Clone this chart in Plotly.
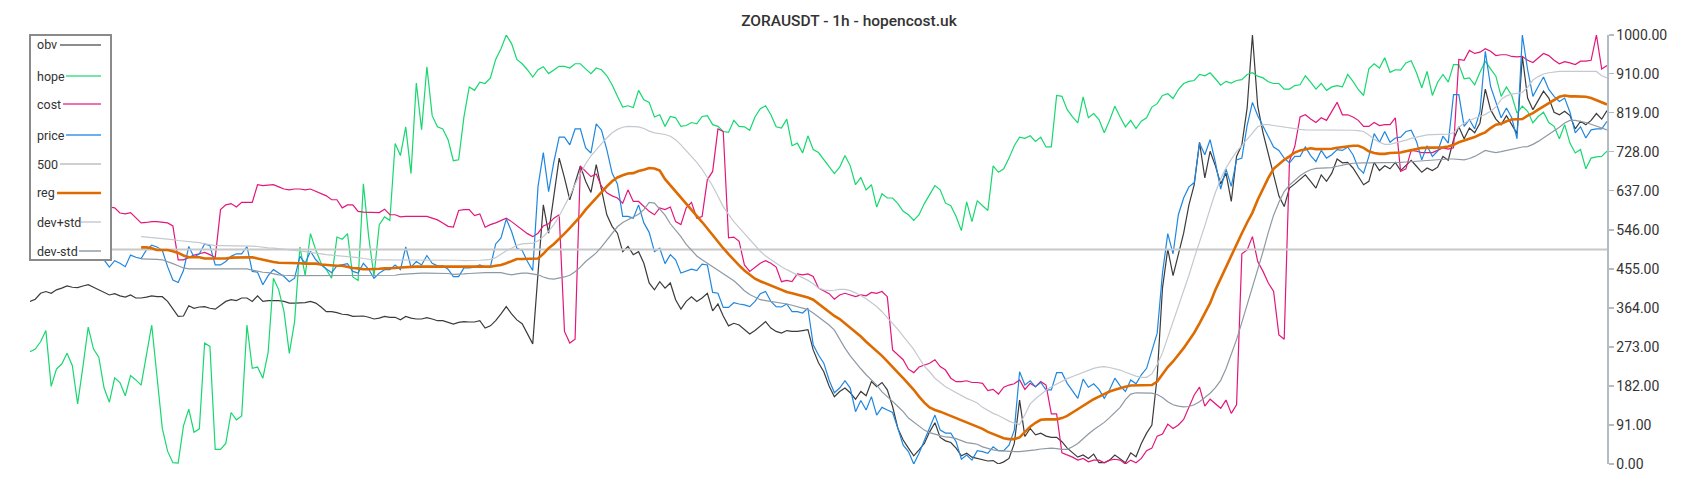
import plotly.graph_objects as go

# ---------------- data (values on a 0-1000 normalised scale) ----------------
hope = [
    262, 268, 285, 311, 181, 221, 233, 258, 229, 140,
    227, 319, 268, 249, 177, 144, 201, 190, 159, 206,
    196, 184, 254, 324, 204, 83, 30, 3, 2, 89,
    128, 74, 82, 282, 274, 34, 34, 48, 120, 103,
    112, 324, 223, 226, 200, 260, 433, 406, 355, 258,
    332, 506, 439, 537, 499, 468, 453, 433, 529, 524,
    537, 436, 428, 653, 530, 437, 558, 576, 568, 747,
    719, 786, 677, 888, 779, 926, 812, 786, 781, 756,
    707, 709, 809, 879, 871, 890, 887, 900, 943, 968,
    1000, 980, 943, 933, 919, 902, 919, 926, 910, 919,
    927, 927, 923, 933, 933, 921, 910, 923, 919, 905,
    884, 857, 832, 835, 831, 871, 849, 843, 809, 814,
    787, 810, 807, 787, 789, 796, 793, 810, 812, 791,
    787, 775, 773, 801, 787, 786, 778, 809, 828, 835,
    814, 786, 783, 804, 742, 748, 725, 765, 733, 726,
    709, 692, 677, 692, 719, 695, 651, 668, 639, 651,
    599, 630, 620, 620, 607, 589, 581, 568, 581, 607,
    629, 649, 639, 608, 602, 577, 544, 611, 565, 614,
    602, 591, 695, 680, 688, 713, 742, 762, 759, 765,
    752, 762, 739, 739, 859, 857, 826, 809, 795, 856,
    807, 817, 803, 772, 801, 834, 809, 786, 801, 782,
    799, 807, 832, 840, 859, 863, 852, 873, 887, 892,
    894, 908, 905, 912, 898, 883, 892, 888, 894, 896,
    908, 912, 904, 900, 891, 887, 887, 874, 874, 882,
    884, 905, 890, 874, 887, 871, 879, 882, 879, 908,
    892, 873, 859, 921, 933, 923, 947, 913, 919, 918,
    935, 940, 912, 877, 915, 859, 890, 908, 890, 931,
    931, 898, 900, 884, 913, 939, 921, 904, 857, 879,
    859, 818, 834, 822, 795, 810, 820, 796, 787, 758,
    791, 748, 725, 733, 688, 713, 716, 717, 729,
]

price = [
    495, 500, 505, 498, 492, 488, 495, 500, 505, 498,
    492, 488, 482, 480, 476, 459, 474, 468, 460, 487,
    482, 479, 499, 510, 506, 498, 460, 429, 423, 451,
    507, 482, 490, 513, 509, 464, 464, 472, 484, 490,
    490, 507, 449, 447, 418, 439, 453, 445, 437, 425,
    433, 484, 468, 496, 476, 464, 454, 446, 462, 464,
    467, 449, 445, 468, 454, 433, 445, 453, 453, 464,
    453, 506, 459, 472, 464, 486, 468, 462, 462, 454,
    437, 437, 457, 457, 459, 464, 459, 460, 513, 527,
    571, 542, 503, 498, 472, 451, 647, 726, 635, 705,
    762, 762, 744, 781, 781, 737, 725, 793, 778, 733,
    678, 653, 577, 577, 573, 604, 562, 540, 495, 503,
    467, 488, 476, 445, 449, 454, 451, 466, 464, 400,
    398, 365, 365, 376, 373, 371, 367, 379, 397, 402,
    379, 367, 366, 373, 355, 355, 352, 363, 278, 254,
    235, 196, 166, 177, 194, 177, 122, 148, 126, 157,
    114, 132, 126, 120, 83, 44, 29, 0, 25, 56,
    87, 114, 79, 72, 72, 52, 11, 21, 9, 31,
    29, 25, 40, 31, 31, 44, 79, 215, 184, 194,
    180, 190, 173, 173, 213, 213, 188, 169, 153, 198,
    179, 187, 174, 153, 173, 200, 182, 169, 196, 187,
    208, 223, 266, 305, 445, 537, 490, 581, 620, 646,
    656, 748, 721, 756, 703, 641, 688, 647, 709, 713,
    789, 843, 812, 787, 765, 739, 731, 713, 702, 717,
    717, 739, 719, 705, 731, 713, 721, 733, 731, 739,
    721, 690, 678, 717, 770, 750, 775, 750, 760, 762,
    775, 778, 752, 709, 742, 717, 729, 764, 748, 861,
    861, 787, 803, 781, 822, 962, 880, 843, 807, 830,
    807, 758, 1000, 919, 857, 880, 902, 873, 857, 845,
    853, 820, 772, 786, 760, 779, 781, 781, 799,
]

obv = [
    379, 384, 398, 402, 398, 406, 410, 415, 412, 411,
    415, 418, 412, 406, 400, 394, 397, 392, 389, 394,
    387, 387, 389, 392, 390, 390, 379, 361, 344, 345,
    369, 363, 366, 367, 363, 361, 371, 379, 383, 381,
    387, 387, 379, 392, 379, 381, 381, 381, 379, 375,
    375, 376, 376, 379, 375, 366, 355, 355, 353, 349,
    348, 344, 344, 345, 342, 338, 340, 344, 342, 342,
    336, 344, 340, 338, 338, 341, 338, 334, 334, 330,
    326, 330, 332, 331, 331, 334, 317, 322, 334, 350,
    367, 350, 336, 327, 305, 280, 445, 604, 538, 624,
    713, 667, 616, 655, 695, 659, 633, 698, 643, 581,
    554, 538, 495, 507, 488, 495, 468, 422, 406, 425,
    410, 422, 383, 361, 379, 390, 379, 387, 398, 357,
    373, 345, 322, 328, 324, 313, 303, 311, 322, 332,
    317, 309, 305, 311, 309, 309, 311, 313, 266, 236,
    215, 182, 157, 169, 177, 166, 151, 169, 159, 192,
    180, 190, 173, 134, 83, 56, 37, 19, 33, 48,
    75, 96, 62, 54, 50, 37, 19, 25, 16, 13,
    9, 7, 8, 0, 5, 13, 48, 149, 64, 83,
    68, 72, 65, 62, 62, 52, 37, 26, 16, 21,
    13, 23, 3, 3, 9, 21, 13, 3, 26, 17,
    48, 72, 91, 204, 410, 501, 439, 490, 538, 604,
    651, 750, 667, 729, 695, 653, 678, 612, 717, 744,
    830, 1000, 834, 772, 721, 670, 625, 600, 643, 653,
    663, 674, 659, 643, 674, 659, 678, 711, 702, 703,
    690, 670, 651, 659, 703, 684, 695, 688, 703, 684,
    695, 708, 694, 680, 690, 684, 692, 717, 708, 756,
    786, 758, 783, 772, 795, 874, 826, 804, 791, 812,
    791, 770, 950, 853, 826, 849, 869, 853, 820, 814,
    822, 812, 781, 799, 791, 801, 817, 804, 824,
]

cost = [
    610, 615, 612, 608, 605, 610, 606, 600, 598, 603,
    600, 597, 602, 600, 599, 599, 597, 585, 583, 586,
    573, 562, 563, 565, 565, 563, 562, 555, 476, 476,
    481, 487, 490, 493, 488, 481, 593, 604, 607, 599,
    610, 610, 610, 651, 649, 650, 651, 646, 641, 639,
    641, 641, 639, 641, 635, 630, 625, 616, 616, 597,
    604, 604, 589, 587, 587, 586, 586, 594, 581, 581,
    576, 577, 577, 577, 577, 577, 573, 569, 562, 554,
    552, 591, 593, 593, 579, 583, 552, 558, 562, 568,
    573, 565, 555, 546, 537, 530, 538, 555, 560, 573,
    581, 309, 282, 291, 694, 682, 670, 676, 647, 632,
    625, 620, 608, 639, 612, 612, 600, 589, 581, 597,
    593, 599, 565, 558, 597, 610, 573, 577, 663, 682,
    781, 775, 527, 529, 519, 464, 449, 459, 468, 474,
    468, 459, 425, 428, 425, 443, 441, 443, 437, 410,
    404, 397, 384, 394, 398, 394, 390, 394, 392, 400,
    398, 402, 390, 266, 254, 243, 221, 213, 226, 231,
    235, 243, 227, 219, 200, 192, 192, 194, 190, 190,
    188, 171, 174, 163, 179, 184, 187, 196, 174, 188,
    180, 192, 184, 117, 117, 26, 21, 16, 9, 13,
    5, 9, 9, 3, 9, 11, 9, 0, 9, 3,
    13, 31, 37, 65, 70, 93, 83, 91, 104, 134,
    161, 179, 135, 151, 140, 130, 149, 118, 138, 490,
    499, 530, 472, 449, 422, 402, 301, 291, 706, 740,
    809, 814, 804, 796, 807, 801, 822, 843, 814, 814,
    809, 801, 787, 787, 796, 789, 791, 791, 807, 682,
    688, 731, 729, 726, 726, 726, 731, 737, 734, 737,
    943, 941, 964, 957, 960, 968, 962, 952, 954, 954,
    950, 949, 950, 941, 936, 947, 957, 952, 941, 933,
    938, 935, 931, 939, 939, 941, 1000, 921, 929,
]

reg = [
    None, None, None, None, None, None, None, None, None, None,
    None, None, None, None, None, None, None, None, None, None,
    None, 505, 505, 503, 499, 499, 499, 496, 492, 486,
    482, 482, 482, 479, 479, 479, 479, 479, 481, 481,
    481, 481, 482, 479, 476, 474, 471, 469, 469, 469,
    469, 468, 467, 467, 467, 465, 464, 462, 462, 462,
    459, 457, 456, 454, 454, 454, 455, 456, 456, 457,
    458, 459, 460, 460, 460, 460, 460, 460, 460, 460,
    460, 459, 460, 460, 460, 460, 460, 460, 462, 464,
    468, 473, 478, 478, 478, 478, 479, 490, 503, 513,
    524, 537, 550, 563, 577, 593, 607, 620, 633, 647,
    659, 668, 673, 677, 678, 683, 686, 690, 689, 684,
    664, 650, 636, 622, 607, 594, 580, 564, 549, 533,
    517, 503, 489, 475, 463, 451, 441, 432, 426, 421,
    416, 411, 406, 401, 398, 395, 392, 388, 383, 373,
    363, 353, 345, 338, 328, 318, 309, 297, 285, 274,
    264, 252, 239, 227, 213, 200, 187, 173, 157, 143,
    132, 126, 122, 117, 112, 107, 101, 96, 92, 87,
    82, 75, 70, 65, 60, 58, 58, 62, 75, 87,
    96, 103, 104, 104, 104, 107, 112, 120, 128, 135,
    143, 151, 157, 163, 169, 173, 177, 180, 183, 183,
    183, 183, 184, 192, 208, 226, 239, 254, 270, 288,
    306, 328, 350, 375, 406, 433, 457, 484, 511, 538,
    563, 586, 616, 641, 667, 688, 699, 709, 717, 726,
    731, 734, 736, 734, 734, 734, 735, 737, 739, 740,
    742, 742, 737, 729, 725, 723, 723, 725, 726, 726,
    729, 731, 734, 737, 737, 737, 737, 738, 740, 744,
    750, 754, 758, 762, 768, 773, 783, 791, 793, 799,
    803, 804, 804, 812, 818, 826, 834, 842, 849, 856,
    859, 857, 857, 856, 856, 853, 848, 842, 838,
]

dev_plus_std = [
    None, None, None, None, None, None, None, None, None, None,
    None, None, None, None, None, None, None, None, None, None,
    None, 530, 529, 528, 526, 525, 524, 523, 521, 520,
    518, 517, 516, 513, 511, 509, 509, 509, 509, 509,
    509, 509, 508, 507, 505, 504, 503, 502, 501, 500,
    499, 497, 495, 493, 491, 489, 488, 487, 486, 485,
    484, 483, 481, 479, 477, 476, 476, 476, 476, 476,
    476, 476, 476, 476, 476, 476, 476, 476, 476, 475,
    475, 475, 474, 474, 475, 475, 476, 477, 481, 490,
    497, 503, 510, 513, 514, 515, 520, 530, 543, 558,
    578, 600, 625, 652, 678, 700, 718, 733, 747, 760,
    772, 780, 785, 787, 787, 786, 782, 776, 772, 770,
    768, 764, 756, 744, 730, 718, 703, 687, 668, 648,
    624, 600, 582, 565, 551, 537, 524, 510, 496, 485,
    476, 468, 460, 453, 447, 441, 435, 428, 420, 410,
    406, 404, 405, 407, 407, 404, 399, 393, 385, 376,
    367, 355, 342, 329, 314, 298, 283, 267, 247, 228,
    215, 200, 190, 180, 173, 166, 160, 153, 148, 142,
    132, 125, 118, 113, 106, 100, 95, 92, 115, 140,
    152, 163, 172, 180, 187, 194, 199, 204, 209, 214,
    219, 223, 226, 227, 225, 222, 219, 214, 209, 205,
    202, 202, 210, 232, 259, 295, 329, 365, 399, 440,
    480, 515, 555, 595, 633, 665, 690, 710, 728, 742,
    756, 772, 786, 791, 791, 789, 787, 785, 784, 782,
    780, 779, 779, 779, 778, 778, 778, 778, 778, 778,
    778, 777, 775, 767, 757, 750, 745, 745, 748, 751,
    755, 759, 762, 765, 767, 768, 768, 768, 769, 772,
    785, 795, 801, 806, 810, 815, 822, 832, 850, 858,
    862, 864, 866, 878, 895, 903, 909, 912, 914, 915,
    915, 915, 915, 915, 915, 915, 915, 905, 900,
]

dev_minus_std = [
    None, None, None, None, None, None, None, None, None, None,
    None, None, None, None, None, None, None, None, None, None,
    None, 478, 478, 477, 477, 476, 472, 467, 462, 457,
    455, 455, 455, 455, 455, 455, 455, 455, 456, 456,
    456, 455, 452, 449, 447, 446, 443, 441, 440, 439,
    439, 439, 439, 439, 439, 439, 439, 439, 439, 439,
    439, 439, 439, 439, 439, 439, 439, 439, 439, 440,
    442, 443, 444, 444, 445, 445, 445, 445, 445, 444,
    442, 442, 443, 444, 445, 445, 446, 446, 446, 446,
    443, 441, 443, 445, 445, 443, 441, 436, 432, 431,
    433, 436, 440, 448, 459, 472, 482, 492, 506, 522,
    538, 553, 563, 570, 576, 582, 593, 610, 608, 595,
    580, 560, 545, 530, 512, 498, 485, 476, 468, 460,
    452, 445, 436, 427, 416, 404, 395, 389, 383, 381,
    379, 378, 376, 373, 370, 367, 364, 360, 352, 343,
    335, 324, 312, 290, 270, 252, 236, 222, 208, 196,
    184, 168, 158, 146, 134, 122, 107, 98, 88, 79,
    73, 69, 66, 63, 62, 59, 54, 50, 48, 46,
    40, 36, 33, 31, 30, 29, 29, 29, 30, 31,
    33, 35, 36, 37, 36, 34, 34, 40, 48, 60,
    70, 80, 88, 97, 108, 120, 132, 150, 163, 166,
    166, 166, 165, 162, 155, 145, 138, 135, 133, 134,
    138, 145, 155, 165, 178, 195, 222, 255, 290, 330,
    370, 415, 455, 495, 540, 580, 610, 635, 650, 662,
    672, 680, 686, 689, 690, 690, 691, 694, 697, 699,
    701, 702, 702, 702, 702, 702, 702, 703, 703, 703,
    704, 705, 705, 706, 707, 708, 709, 710, 711, 711,
    710, 709, 712, 717, 724, 731, 728, 726, 728, 731,
    733, 736, 739, 740, 745, 752, 760, 768, 776, 785,
    795, 801, 801, 799, 796, 792, 788, 784, 779,
]

level_500 = 500

y_tick_values = [0, 91, 182, 273, 364, 455, 546, 637, 728, 819, 910, 1000]
y_tick_labels = ["0.00", "91.00", "182.00", "273.00", "364.00", "455.00",
                 "546.00", "637.00", "728.00", "819.00", "910.00", "1000.00"]

title_text = "ZORAUSDT - 1h - hopencost.uk"

# ---------------- figure ----------------
N = len(hope)
x = list(range(N))

FONT = "Roboto, 'Noto Sans', sans-serif"

series = [
    ("obv", obv, "#3b3b3b", 1.2, "#8c8c8c", 60),
    ("hope", hope, "#16d86f", 1.2, "#74e6a7", 66),
    ("cost", cost, "#e3167b", 1.2, "#ee71ac", 63),
    ("price", price, "#1f87e0", 1.2, "#6aaff0", 66),
    ("500", [level_500] * N, "#c8c8c8", 2.0, "#cfcfcf", 60),
    ("reg", reg, "#de6b00", 2.6, "#de6b00", 57),
    ("dev+std", dev_plus_std, "#c3c9cf", 1.2, "#d5d9dd", 81),
    ("dev-std", dev_minus_std, "#8e99a3", 1.2, "#aeb6bd", 79),
]

fig = go.Figure()
for name, ys, color, width, _, _ in series:
    fig.add_trace(go.Scatter(
        x=x, y=ys, mode="lines", name=name,
        line=dict(color=color, width=width),
        connectgaps=False, hoverinfo="skip",
    ))

# plot-area geometry in pixels
L, R, T, B = 30, 1607, 35, 464
W, H = 1700, 500


def px(xp):
    return (xp - L) / (R - L)


def py(yp):
    return (B - yp) / (B - T)


shapes = []
annotations = []
# legend box (drawn manually: text left, sample line right)
shapes.append(dict(type="rect", xref="paper", yref="paper",
                   x0=px(30), x1=px(111), y0=py(260), y1=py(35),
                   line=dict(color="#8a8a8a", width=2),
                   fillcolor="white", layer="above"))
legend_rows = [45, 76, 104, 135, 164, 193, 222, 251]
for (name, _, _, width, scol, sx), yc in zip(series, legend_rows):
    shapes.append(dict(type="line", xref="paper", yref="paper",
                       x0=px(sx), x1=px(101), y0=py(yc), y1=py(yc),
                       line=dict(color=scol, width=2.6 if name == "reg" else 2),
                       layer="above"))
    annotations.append(dict(text=name, xref="paper", yref="paper",
                            x=px(35), y=py(yc), xanchor="left", yanchor="middle",
                            showarrow=False,
                            font=dict(family=FONT, size=12.5, color="#333333")))

fig.update_layout(
    width=W, height=H,
    margin=dict(l=L, r=W - R, t=T, b=H - B),
    paper_bgcolor="white", plot_bgcolor="white",
    showlegend=False,
    title=dict(text=title_text, x=849 / W, xanchor="center",
               y=1 - 21 / H, yanchor="middle",
               font=dict(family=FONT, size=15.5, color="#333333", weight=500)),
    shapes=shapes, annotations=annotations,
    xaxis=dict(range=[0, N - 1], visible=False, fixedrange=True),
    yaxis=dict(range=[0, 1000], side="right", showgrid=False, zeroline=False,
               showline=True, linecolor="#b3bcc5", linewidth=1.5,
               ticks="outside", ticklen=5, tickwidth=1.5, tickcolor="#b3bcc5",
               tickvals=y_tick_values, ticktext=y_tick_labels,
               tickfont=dict(family=FONT, size=14, color="#333333"),
               fixedrange=True),
)

fig.write_html("out.html",
               config={"displayModeBar": False, "staticPlot": True},
               post_script="document.body.style.margin='0';document.body.style.overflow='hidden';")
